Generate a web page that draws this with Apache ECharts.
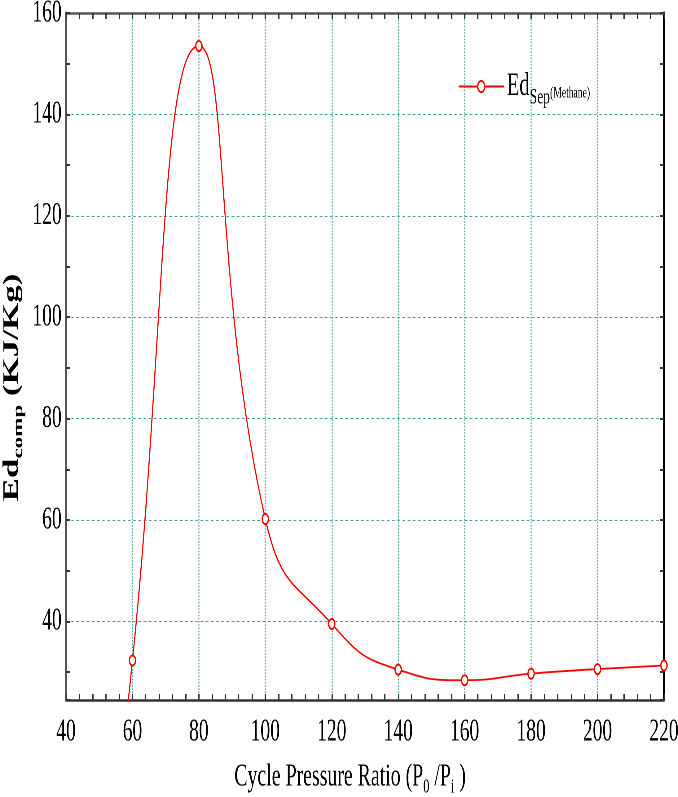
<!DOCTYPE html>
<html>
<head>
<meta charset="utf-8">
<script src="https://cdn.jsdelivr.net/npm/echarts@6/dist/echarts.min.js"></script>
<style>
html,body{margin:0;padding:0;overflow:hidden;background:#fff;width:678px;height:797px;}
#c{width:1094px;height:797px;transform:scaleX(0.6197);transform-origin:0 0;}
</style>
</head>
<body>
<div id="c"></div>
<script>
// Data
const pressureRatio = [40, 60, 80, 100, 120, 140, 160, 180, 200, 220];
const edSepMethane = [-100, 32.3, 153.5, 60.2, 39.5, 30.5, 28.4, 29.7, 30.6, 31.3];
const shownMarker = [false, true, true, true, true, true, true, true, true, true];
const xTicks = [40, 60, 80, 100, 120, 140, 160, 180, 200, 220];
const yTicks = [40, 60, 80, 100, 120, 140, 160];

const serif = 'Liberation Serif';
const gridColor = '#3b9c9c';
const chart = echarts.init(document.getElementById('c'), null, {renderer: 'canvas', devicePixelRatio: 2});

const seriesData = pressureRatio.map((x, i) => ({
  value: [x, edSepMethane[i]],
  symbol: shownMarker[i] ? 'emptyCircle' : 'none'
}));

const tickStyle = {color: '#333', width: 2};

chart.setOption({
  animation: false,
  backgroundColor: '#fff',
  grid: {left: 106.5, right: 22.6, top: 13, bottom: 97, containLabel: false, outerBoundsMode: 'none'},
  legend: {
    left: 734, top: 65, padding: 5,
    itemWidth: 73, itemHeight: 14, itemGap: 10,
    data: ['EdSep'],
    formatter: () => '{a|Ed}{b|Sep}{c|(Methane)}',
    textStyle: {
      color: '#000', fontFamily: serif,
      rich: {
        a: {fontSize: 33, lineHeight: 44, verticalAlign: 'middle', fontFamily: serif, color: '#000'},
        b: {fontSize: 22, verticalAlign: 'bottom', fontFamily: serif, color: '#000'},
        c: {fontSize: 15.5, verticalAlign: 'bottom', padding: [0, 0, 7, 0], fontFamily: serif, color: '#000'}
      }
    }
  },
  xAxis: [
    {
      type: 'value', min: xTicks[0], max: xTicks[xTicks.length - 1], interval: 20, position: 'bottom',
      axisLine: {show: true, onZero: false, lineStyle: {color: '#333', width: 2.5}},
      axisTick: {show: true, inside: true, length: 6, lineStyle: tickStyle},
      minorTick: {show: true, splitNumber: 5, length: 6, lineStyle: tickStyle},
      axisLabel: {fontFamily: serif, fontSize: 31.5, color: '#000', margin: 16},
      splitLine: {show: true, lineStyle: {color: gridColor, type: 'dotted', width: 1.6}},
      name: '{t|Cycle Pressure Ratio (P}{s|0}{t| /P}{s|i}{t| )}',
      nameLocation: 'middle', nameGap: 57,
      nameTextStyle: {
        fontFamily: serif, color: '#000', padding: [0, 48, 0, 0],
        rich: {
          t: {fontSize: 32, lineHeight: 40, verticalAlign: 'middle', fontFamily: serif, color: '#000'},
          s: {fontSize: 20, verticalAlign: 'bottom', fontFamily: serif, color: '#000'}
        }
      }
    },
    {
      type: 'value', min: xTicks[0], max: xTicks[xTicks.length - 1], interval: 4, position: 'top',
      axisLine: {show: true, onZero: false, lineStyle: {color: '#555', width: 2.5}},
      axisTick: {show: true, inside: true, length: 6, lineStyle: tickStyle},
      axisLabel: {show: false}, splitLine: {show: false}
    }
  ],
  yAxis: [
    {
      type: 'value', min: 24.5, max: yTicks[yTicks.length - 1], splitNumber: 7, position: 'left',
      axisLine: {show: true, onZero: false, lineStyle: {color: '#555', width: 3}},
      axisTick: {show: false},
      axisLabel: {fontFamily: serif, fontSize: 31.5, color: '#000', margin: 7,
        formatter: v => (yTicks.indexOf(v) >= 0 ? String(v) : '')},
      splitLine: {show: true, lineStyle: {color: gridColor, type: 'dotted', width: 1}},
      name: '{a|Ed}{b|comp}{a| (KJ/Kg)}',
      nameLocation: 'middle', nameGap: 51, nameRotate: 90,
      nameTextStyle: {
        fontFamily: serif, color: '#000', padding: [0, 62, 0, 0],
        rich: {
          a: {fontSize: 35, fontWeight: 'bold', lineHeight: 44, verticalAlign: 'middle', fontFamily: serif, color: '#000'},
          b: {fontSize: 23, fontWeight: 'bold', verticalAlign: 'bottom', fontFamily: serif, color: '#000'}
        }
      }
    },
    {
      type: 'value', min: 24.5, max: yTicks[yTicks.length - 1], splitNumber: 14, position: 'left',
      axisLine: {show: false},
      axisTick: {show: true, inside: true, length: 6.5, lineStyle: tickStyle},
      axisLabel: {show: false}, splitLine: {show: false}
    },
    {
      type: 'value', min: 24.5, max: yTicks[yTicks.length - 1], splitNumber: 14, position: 'right',
      axisLine: {show: true, onZero: false, lineStyle: {color: '#000', width: 3}},
      axisTick: {show: true, inside: true, length: 6.5, lineStyle: tickStyle},
      axisLabel: {show: false}, splitLine: {show: false}
    }
  ],
  series: [{
    name: 'EdSep', type: 'line', xAxisIndex: 0, yAxisIndex: 0,
    smooth: true, clip: true,
    symbol: 'emptyCircle', symbolSize: 10,
    data: seriesData,
    lineStyle: {color: '#ff0000', width: 1.8},
    itemStyle: {color: '#ff0000', borderColor: '#ff0000', borderWidth: 1.8}
  }]
});
</script>
</body>
</html>
